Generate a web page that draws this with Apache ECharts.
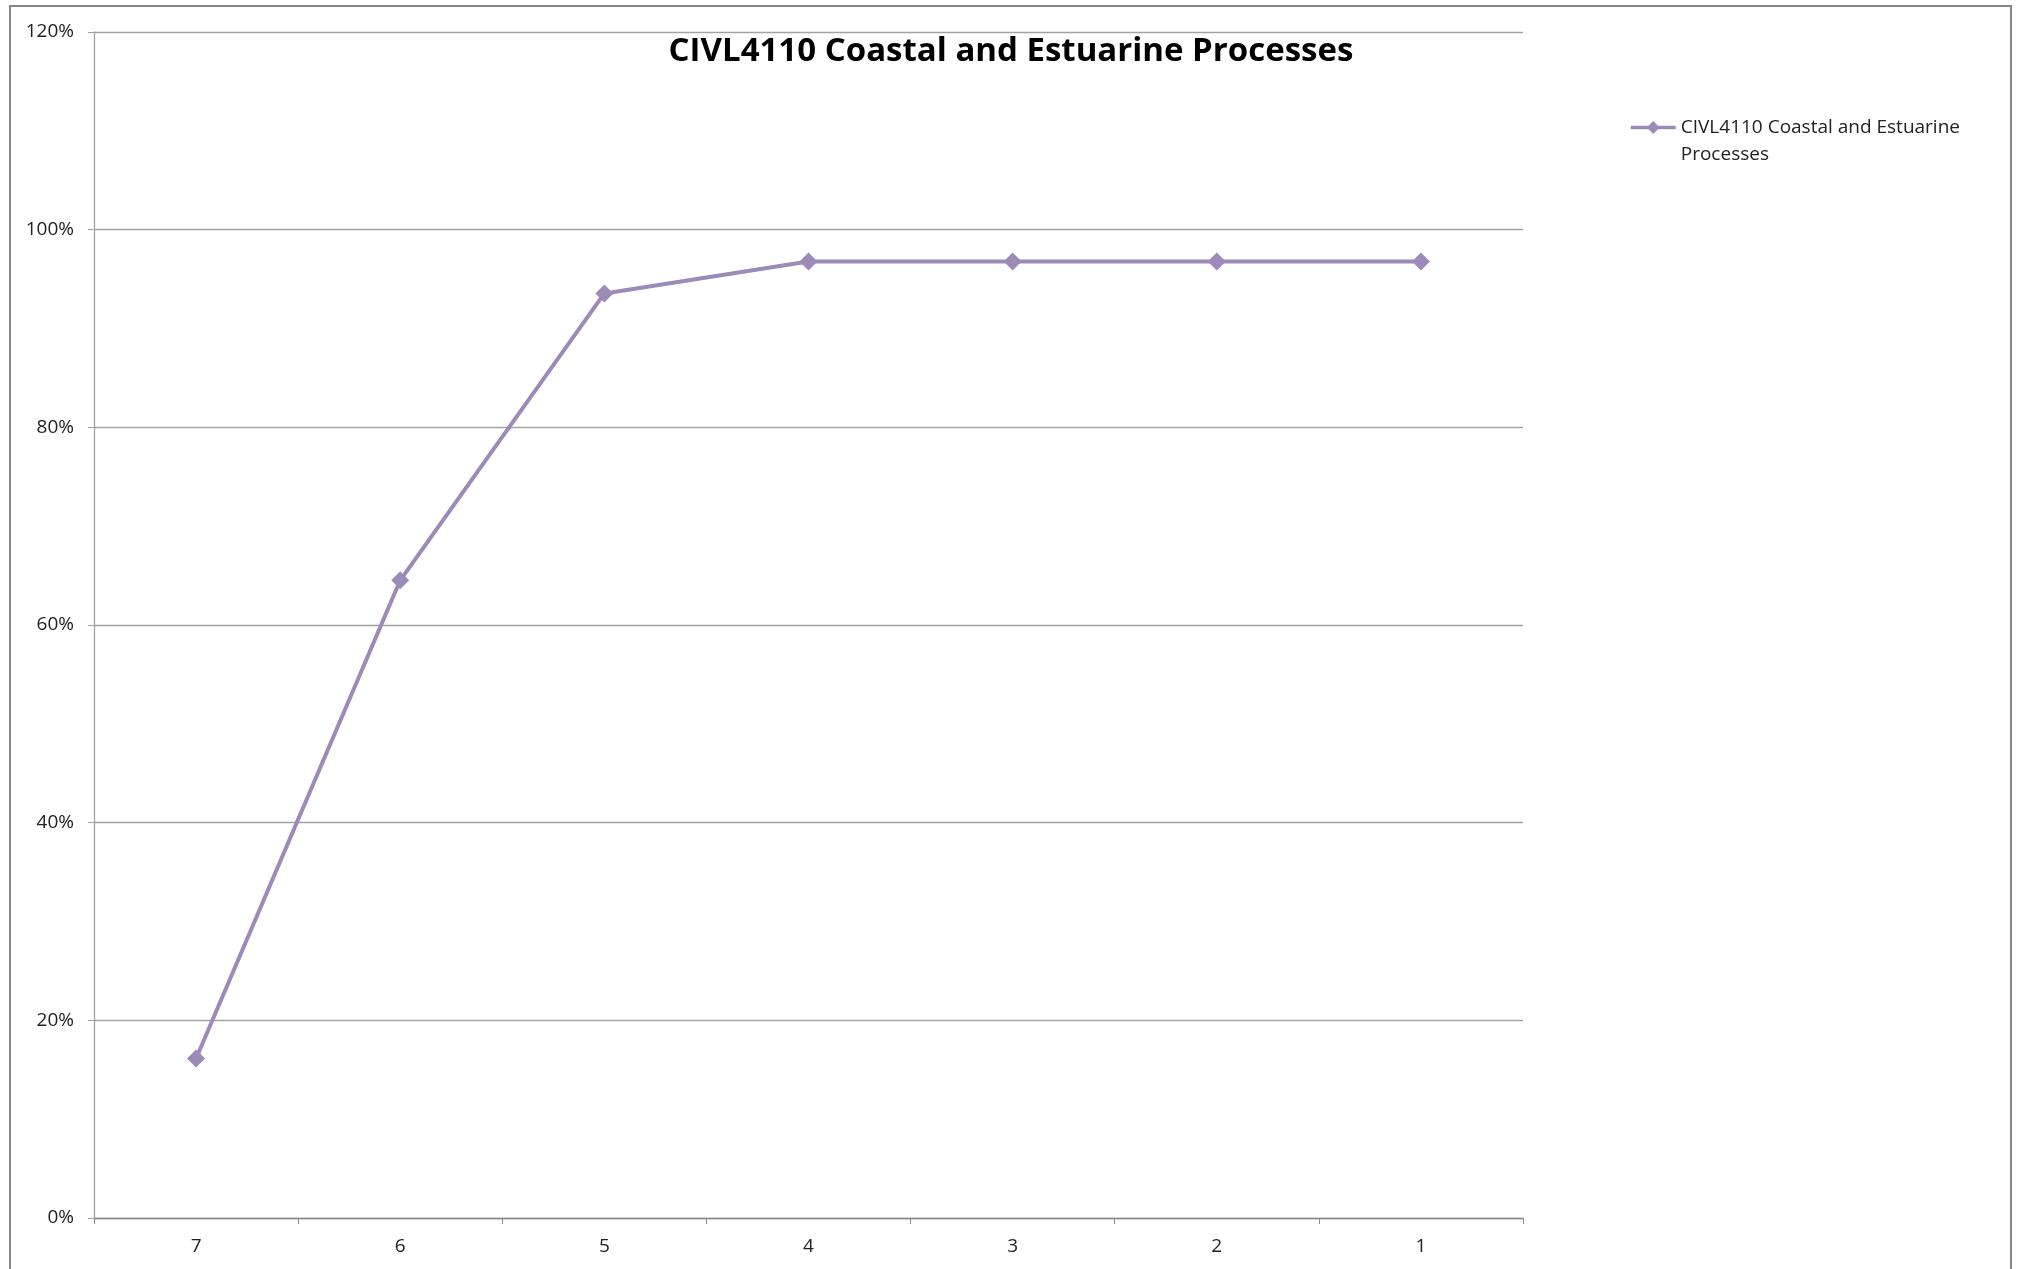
<!DOCTYPE html>
<html>
<head>
<meta charset="utf-8">
<script src="https://cdn.jsdelivr.net/npm/echarts@6/dist/echarts.min.js"></script>
<style>
html,body{margin:0;padding:0;background:#fff;}
#chart{width:2022px;height:1269px;}
</style>
</head>
<body>
<div id="chart"></div>
<script>
const titleText = 'CIVL4110 Coastal and Estuarine Processes';
const seriesName = 'CIVL4110 Coastal and Estuarine Processes';
const categories = ['7', '6', '5', '4', '3', '2', '1'];
const values = [16.13, 64.52, 93.55, 96.77, 96.77, 96.77, 96.77];
const yTicks = { min: 0, max: 120, interval: 20 };

const chart = echarts.init(document.getElementById('chart'), null, { renderer: 'canvas' });
const font = 'Open Sans, Noto Sans, sans-serif';
const gridColor = '#a2a2a2';
chart.setOption({
  backgroundColor: '#ffffff',
  animation: false,
  graphic: [{
    type: 'rect',
    shape: { x: 10, y: 6, width: 2001, height: 1300 },
    style: { fill: 'none', stroke: '#858585', lineWidth: 2 },
    silent: true
  }],
  title: {
    text: titleText,
    left: 1006,
    top: 30,
    textAlign: 'center',
    textStyle: { fontFamily: font, fontWeight: 'bold', fontSize: 33, color: '#000' }
  },
  legend: {
    show: true,
    left: 1629,
    top: 87,
    padding: 0,
    orient: 'vertical',
    itemWidth: 45,
    itemHeight: 16,
    itemGap: 4,
    lineStyle: { width: 3.5 },
    formatter: function () { return '\nCIVL4110 Coastal and Estuarine\nProcesses'; },
    textStyle: { fontFamily: font, fontSize: 19, color: '#222', lineHeight: 27 }
  },
  grid: { left: 94, right: 499, top: 32, bottom: 51, containLabel: false, outerBoundsMode: 'none' },
  xAxis: {
    type: 'category',
    data: categories,
    boundaryGap: true,
    axisLine: { lineStyle: { color: '#8c8c8c', width: 1.3 } },
    axisTick: { show: true, alignWithLabel: false, length: 6, lineStyle: { color: '#8c8c8c' } },
    axisLabel: { fontFamily: font, fontSize: 19, color: '#222', margin: 19 },
    splitLine: { show: false }
  },
  yAxis: {
    type: 'value',
    min: yTicks.min,
    max: yTicks.max,
    interval: yTicks.interval,
    axisLine: { show: true, lineStyle: { color: gridColor, width: 1.3 } },
    axisTick: { show: true, length: 6, lineStyle: { color: gridColor } },
    axisLabel: { fontFamily: font, fontSize: 19, color: '#222', margin: 20, formatter: '{value}%' },
    splitLine: { show: true, lineStyle: { color: gridColor, width: 1.3 } }
  },
  series: [{
    name: seriesName,
    type: 'line',
    data: values,
    symbol: 'diamond',
    symbolSize: 18,
    lineStyle: { color: '#9c8ab9', width: 4 },
    itemStyle: { color: '#9c8ab9' }
  }]
});
</script>
</body>
</html>
